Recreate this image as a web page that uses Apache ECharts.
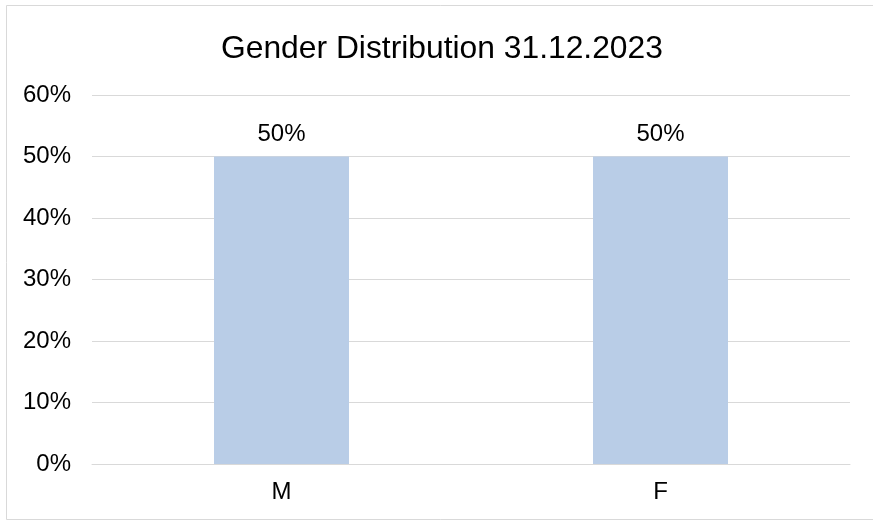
<!DOCTYPE html>
<html>
<head>
<meta charset="utf-8">
<script src="https://cdn.jsdelivr.net/npm/echarts@6/dist/echarts.min.js"></script>
<style>
html,body{margin:0;padding:0;background:#fff;}
#c{width:873px;height:521px;}
</style>
</head>
<body>
<div id="c"></div>
<script>
const titleText = "Gender Distribution 31.12.2023";
const categories = ["M", "F"];
const shares = [0.5, 0.5];
const yTicks = [0, 0.1, 0.2, 0.3, 0.4, 0.5, 0.6];

const font = "'Liberation Sans', Arial, sans-serif";
const chart = echarts.init(document.getElementById('c'), null, {renderer: 'canvas'});
chart.setOption({
  animation: false,
  backgroundColor: '#ffffff',
  graphic: [{
    type: 'rect', silent: true, z: -1,
    shape: {x: 6.5, y: 5.5, width: 880, height: 514},
    style: {fill: 'none', stroke: '#d9d9d9', lineWidth: 1}
  }],
  title: {
    text: titleText, left: 216, top: 28,
    textStyle: {fontFamily: font, fontSize: 31.8, fontWeight: 'normal', color: '#000'}
  },
  grid: {left: 92, right: 23, top: 95, bottom: 57, containLabel: false},
  xAxis: {
    type: 'category', data: categories,
    axisLine: {lineStyle: {color: '#d9d9d9', width: 1}},
    axisTick: {show: false},
    axisLabel: {fontFamily: font, fontSize: 24, color: '#000', margin: 16}
  },
  yAxis: {
    type: 'value', min: yTicks[0], max: yTicks[yTicks.length - 1], interval: 0.1,
    axisLine: {show: false}, axisTick: {show: false},
    splitLine: {lineStyle: {color: '#d9d9d9', width: 1}},
    axisLabel: {fontFamily: font, fontSize: 24, color: '#000', margin: 21,
      formatter: v => Math.round(v * 100) + '%'}
  },
  series: [{
    type: 'bar', data: shares, barWidth: 135,
    itemStyle: {color: '#b9cde7'},
    label: {show: true, position: 'top', distance: 10, fontFamily: font, fontSize: 24, color: '#000',
      formatter: p => Math.round(p.value * 100) + '%'}
  }]
});
</script>
</body>
</html>
